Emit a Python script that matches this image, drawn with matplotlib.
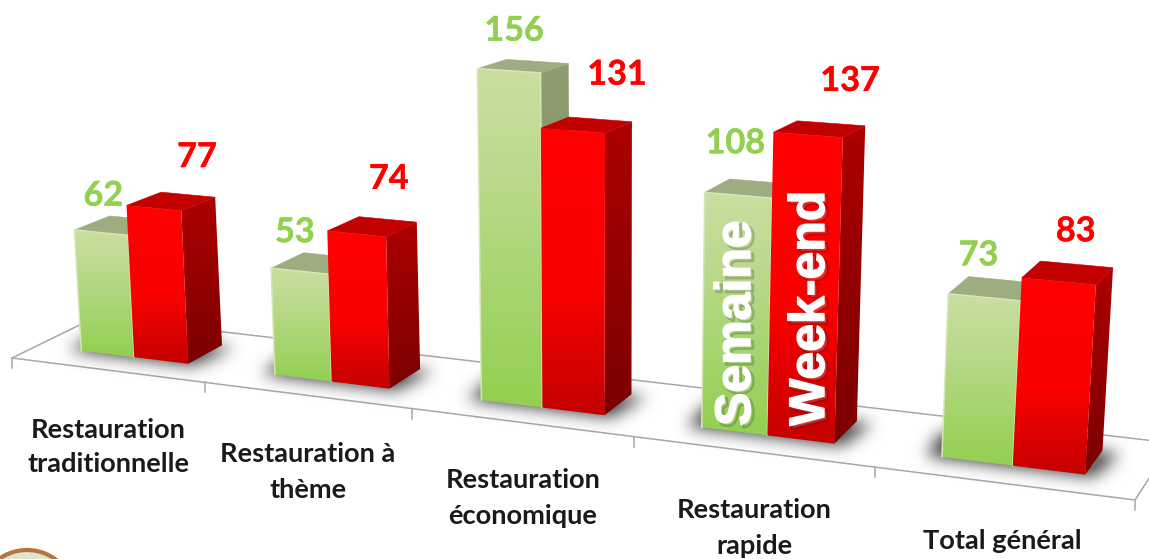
import numpy as np
import matplotlib
matplotlib.use("Agg")
import matplotlib.pyplot as plt
from matplotlib.patches import Polygon, Circle
from matplotlib.path import Path
import matplotlib.patheffects as pe
from matplotlib.colors import LinearSegmentedColormap

# ---------- data ----------
categories = ["Restauration\ntraditionnelle", "Restauration à\nthème", "Restauration\néconomique",
              "Restauration\nrapide", "Total général"]
semaine = [62, 53, 156, 108, 73]
week_end = [77, 74, 131, 137, 83]

# ---------- layout ----------
W, H_PX = 1149, 559
FLOOR = [(12, 358), (1135, 500), (1172, 443), (96, 317)]   # floor outline, picture pixels
VANISH_V = (590.0, 9400.0)                                 # vanishing point of the verticals
V_SCALE = -0.00023
DEPTH_FADE = 0.0035
W0, W1 = 0.30, 0.73
BAR_U = 0.056
center_shift = [0.0025, 0.0023, 0.001, -0.0018, -0.0024]
cat_label_xy = [(108, 447), (308, 472), (523, 498), (754, 528), (1002, 541)]
green_off = [(2, -37), (-5, -39), (5, -40), (-3, -52), (-6, -42)]
red_off = [(43, -51), (32, -55), (44, -56), (42, -54), (17, -50)]


def homography(pts):
    src = [(0, 0), (1, 0), (1, 1), (0, 1)]
    A, b = [], []
    for (u, v), (x, y) in zip(src, pts):
        A.append([u, v, 1, 0, 0, 0, -u * x, -v * x]); b.append(x)
        A.append([0, 0, 0, u, v, 1, -u * y, -v * y]); b.append(y)
    h = np.linalg.solve(np.array(A, float), np.array(b, float))
    return np.append(h, 1).reshape(3, 3)


HG = homography(FLOOR)
HG = HG / (HG @ np.array([0.5, W0, 1]))[2]
VV = V_SCALE * np.array([VANISH_V[0], VANISH_V[1], 1.0])


def project(u, w, h=0.0):
    """Map (position along axis, depth, value) to picture coordinates."""
    p = HG @ np.array([u, W0, 1.0]) + h * VV
    front = np.array([p[0] / p[2], p[1] / p[2]])
    f0 = HG @ np.array([u, W0, 1.0])
    b0 = HG @ np.array([u, w, 1.0])
    d = b0[:2] / b0[2] - f0[:2] / f0[2]
    d[1] *= (1 - DEPTH_FADE * h)
    return tuple(front + d)


fig = plt.figure(figsize=(W / 100, H_PX / 100), dpi=100, facecolor="white")
ax = fig.add_axes([0, 0, 1, 1])
ax.set_axis_off()

# ---------- floor ----------
LINE = "#a8a8a8"
floor_draw = [project(0, 0), project(1, 0), project(1, 1), project(0, 1), project(0, 0)]
ax.plot(*zip(*floor_draw[:3]), color=LINE, lw=1.1, zorder=1)
ax.plot(*zip(*floor_draw[2:]), color=LINE, lw=1.1, zorder=1)
for i in range(6):
    x, y = project(i / 5, 0)
    ax.plot([x, x], [y, y + 10], color=LINE, lw=1.1, zorder=1)

# ---------- shadows ----------
yy, xx = np.mgrid[0:H_PX, 0:W]
grid = np.column_stack([xx.ravel() + 0.5, yy.ravel() + 0.5])
mask = np.zeros((H_PX, W))
for i in range(5):
    c = (i + 0.5) / 5 + center_shift[i]
    poly = [project(c - BAR_U * 1.2, W0 - 0.02), project(c + BAR_U * 1.12, W0 - 0.02),
            project(c + BAR_U * 1.25, W1 - 0.02), project(c - BAR_U * 1.3, W1 - 0.02)]
    mask += Path(poly).contains_points(grid).reshape(H_PX, W).astype(float)
sigma = 8.0
r = np.arange(-24, 25)
kernel = np.exp(-r ** 2 / (2 * sigma ** 2))
kernel /= kernel.sum()
mask = np.apply_along_axis(lambda a: np.convolve(a, kernel, mode="same"), 0, mask)
mask = np.apply_along_axis(lambda a: np.convolve(a, kernel, mode="same"), 1, mask)
shadow = np.zeros((H_PX, W, 4))
shadow[..., :3] = 75 / 255
shadow[..., 3] = np.clip(mask * 1.1, 0, 0.8)
ax.imshow(shadow, extent=(0, W, H_PX, 0), aspect="auto", zorder=2, interpolation="bilinear")


# ---------- bars ----------
def gradient_face(pts, cmap, z):
    xs, ys = zip(*pts)
    grad = np.linspace(0, 1, 256).reshape(-1, 1)
    im = ax.imshow(grad, cmap=cmap, vmin=0, vmax=1, aspect="auto", zorder=z,
                   extent=(min(xs) - 1, max(xs) + 1, max(ys), min(ys)))
    patch = Polygon(pts, closed=True, transform=ax.transData, fc="none", ec="none")
    ax.add_patch(patch)
    im.set_clip_path(patch)


def flat_face(pts, color, z):
    ax.add_patch(Polygon(pts, closed=True, fc=color, ec=color, lw=0.4, zorder=z))


green_front = LinearSegmentedColormap.from_list("gf", [(0, "#c9dfa0"), (0.3, "#bcd98e"), (1, "#92d050")])
red_front = LinearSegmentedColormap.from_list("rf", [(0, "#ff0000"), (0.55, "#fb0000"), (1, "#c40000")])
red_side = LinearSegmentedColormap.from_list("rs", [(0, "#ac0000"), (1, "#7c0000")])
green_side = LinearSegmentedColormap.from_list("gs", [(0, "#8e9d70"), (1, "#7f9060")])


def bar(u0, u1, val, front_cm, side_cm, top_col, z, edge=None):
    fbl, fbr = project(u0, W0), project(u1, W0)
    bbr = project(u1, W1)
    ftl, ftr = project(u0, W0, val), project(u1, W0, val)
    btl, btr = project(u0, W1, val), project(u1, W1, val)
    gradient_face([fbr, bbr, btr, ftr], side_cm, z)
    flat_face([ftl, ftr, btr, btl], top_col, z + 0.1)
    gradient_face([fbl, fbr, ftr, ftl], front_cm, z + 0.2)
    if edge:
        ax.plot([fbl[0], ftl[0], ftr[0], fbr[0]], [fbl[1], ftl[1], ftr[1], fbr[1]],
                color=edge, lw=1.1, zorder=z + 0.3, solid_joinstyle="round")
    return ftl, ftr


GREEN, RED = "#92d050", "#ff0000"
FONT = "Lato"
for i in range(5):
    c = (i + 0.5) / 5 + center_shift[i]
    z = 3 + i
    gl, gr = bar(c - BAR_U, c, semaine[i], green_front, green_side, "#9dad7f", z, edge="#d6e6b8")
    rl, rr = bar(c, c + BAR_U, week_end[i], red_front, red_side, "#c20000", z + 0.4)
    gx, gy = (gl[0] + gr[0]) / 2 + green_off[i][0], (gl[1] + gr[1]) / 2 + green_off[i][1]
    rx, ry = (rl[0] + rr[0]) / 2 + red_off[i][0], (rl[1] + rr[1]) / 2 + red_off[i][1]
    ax.text(gx, gy, str(semaine[i]), color=GREEN, fontsize=24.6, fontweight="bold", family=FONT,
            ha="center", va="center", zorder=20,
            path_effects=[pe.withStroke(linewidth=0.3, foreground=GREEN)])
    ax.text(rx, ry, str(week_end[i]), color=RED, fontsize=24.6, fontweight="bold", family=FONT,
            ha="center", va="center", zorder=20,
            path_effects=[pe.withStroke(linewidth=0.3, foreground=RED)])
    ax.text(*cat_label_xy[i], categories[i], color="#1a1a1a", fontsize=19.6, fontweight="bold", family=FONT,
            ha="center", va="center", linespacing=1.55, zorder=20)

# ---------- series names written on the bars ----------
shadow_fx = [pe.Stroke(linewidth=2.0, foreground="#000000", alpha=0.2, offset=(2, -2)),
             pe.withStroke(linewidth=1.0, foreground="white")]
for name, xy in (("Semaine", (737, 323)), ("Week-end", (811, 308))):
    ax.text(*xy, name, color="white", fontsize=36, fontweight="bold", family="Liberation Sans",
            rotation=90, ha="center", va="center", zorder=25, path_effects=shadow_fx)

# ---------- logo fragment ----------
ax.add_patch(Circle((27, 598), 48, fc="#dfe5cf", ec="#b8743c", lw=3, zorder=26))

ax.set_xlim(0, W)
ax.set_ylim(H_PX, 0)
fig.savefig("out.png", dpi=100, facecolor="white")
